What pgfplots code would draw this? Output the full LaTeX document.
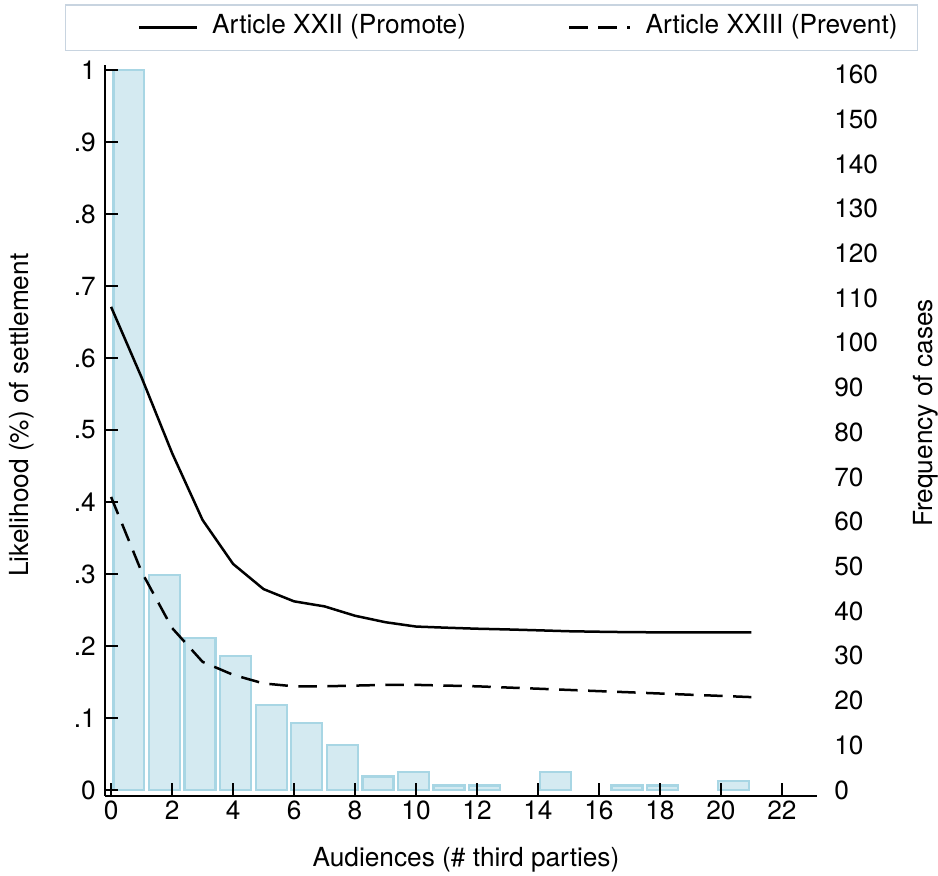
\documentclass[border=0pt]{standalone}
\usepackage{fontspec}
\setmainfont{TeX Gyre Heros}
\usepackage{pgfplots}
\pgfplotsset{compat=1.18}

\definecolor{barfill}{HTML}{D4EAF1}
\definecolor{barline}{HTML}{A8D6E4}
\definecolor{legline}{HTML}{C8D4E0}

\pgfplotsset{/pgf/number format/assume math mode=true}

\begin{document}
\fontsize{10.5}{12.6}\selectfont
\begin{tikzpicture}
\useasboundingbox (-42pt,-32pt) rectangle (333.2pt,318.4pt);

% histogram of cases (18 bins over 0..21), right axis
\begin{axis}[
  scale only axis, width=284.8pt, height=292.4pt,
  xmin=-0.2, xmax=23.15, ymin=-1.342, ymax=162.12,
  hide x axis,
  axis y line*=right,
  axis line style={draw=none},
  ytick={0,10,...,160},
  ytick style={draw=none},
  yticklabel style={anchor=west, xshift=3.2pt},
  ylabel={Frequency of cases},
  every axis y label/.style={at={(axis description cs:1.153,0.524)}, rotate=90, anchor=center, inner sep=0pt},
]
\addplot[ybar, bar width=1.016, fill=barfill, draw=barline, line width=0.9pt] coordinates {
  (0.5833,161) (1.75,48) (2.9167,34) (4.0833,30) (5.25,19) (6.4167,15)
  (7.5833,10) (8.75,3) (9.9167,4) (11.0833,1) (12.25,1)
  (14.5833,4) (16.9167,1) (18.0833,1) (20.4167,2)
};
\end{axis}

% predicted likelihood, left axis
\begin{axis}[
  name=main,
  scale only axis, width=284.8pt, height=292.4pt,
  xmin=-0.2, xmax=23.15, ymin=-0.00833, ymax=1.00694,
  axis x line*=bottom, axis y line*=left,
  axis line style={-, line width=0.8pt},
  tick align=inside,
  major tick length=5.2pt,
  every tick/.style={black, line width=0.8pt},
  xtick={0,2,...,22},
  ytick={0,0.1,0.2,0.3,0.4,0.5,0.6,0.7,0.8,0.9,1},
  yticklabels={0,.1,.2,.3,.4,.5,.6,.7,.8,.9,1},
  xticklabel style={yshift=1.6pt},
  xlabel={Audiences (\# third parties)},
  ylabel={Likelihood (\%) of settlement},
  every axis x label/.style={at={(axis description cs:0.507,-0.0876)}, anchor=center, inner sep=0pt},
  every axis y label/.style={at={(axis description cs:-0.1166,0.521)}, rotate=90, anchor=center, inner sep=0pt},
  legend columns=2,
  legend cell align=left,
  legend style={at={(axis description cs:-0.0562,1.0834)}, anchor=north west,
    draw=legline, line width=0.6pt, inner xsep=8pt, inner ysep=4pt,
    nodes={inner sep=0pt, text depth=0.25em},
    /tikz/every odd column/.append style={column sep=5.6pt},
    /tikz/every even column/.append style={column sep=40.8pt}},
]
\addplot[black, line width=1pt, line join=round,
  legend image code/.code={\path (-20.8pt,0pt); \draw[black, line width=1pt] (0pt,0pt) -- (23.2pt,0pt);}] coordinates {
  (0,.671) (1,.573) (2,.468) (3,.375) (4,.314) (5,.279) (6,.262) (7,.255)
  (8,.242) (9,.233) (10,.227) (11,.2254) (12,.224) (13,.223) (14,.2218)
  (15,.2205) (16,.2198) (17,.2192) (18,.219) (19,.219) (20,.219) (21,.219)
};
\addlegendentry{Article XXII (Promote)}
\addplot[black, line width=1pt, line join=round, dash pattern=on 7.4pt off 4.2pt,
  legend image code/.code={\draw[black, line width=1pt, dash pattern=on 7.4pt off 4.2pt] (0pt,0pt) -- (24.4pt,0pt);}] coordinates {
  (0,.407) (1,.303) (2,.225) (3,.178) (4,.160) (5,.148) (6,.144) (7,.144)
  (8,.145) (9,.146) (10,.146) (11,.145) (12,.144) (13,.1423) (14,.1407)
  (15,.139) (16,.1373) (17,.1357) (18,.134) (19,.1323) (20,.1307) (21,.129)
};
\addlegendentry{Article XXIII (Prevent)}
\end{axis}
\end{tikzpicture}
\end{document}
